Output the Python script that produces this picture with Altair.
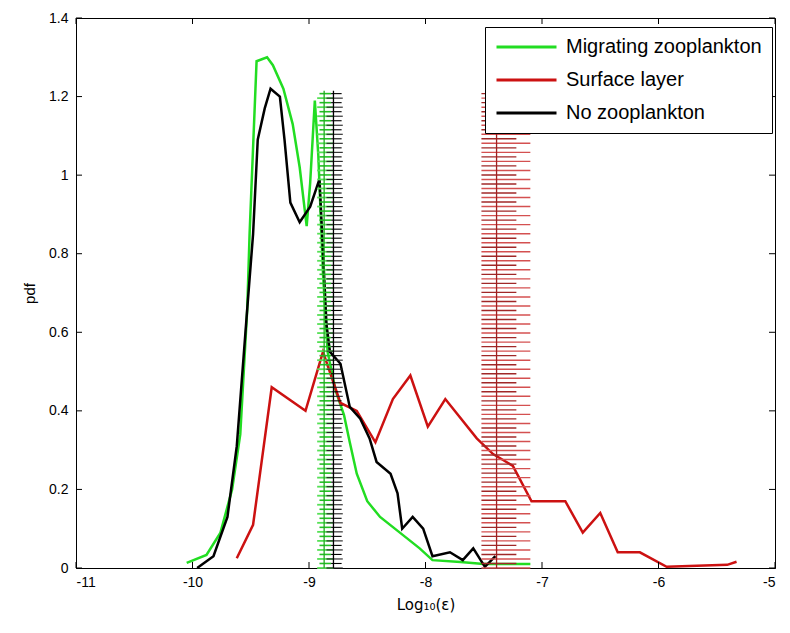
import altair as alt
import pandas as pd

# ---------------- curve data ----------------
series_names = ["Migrating zooplankton", "Surface layer", "No zooplankton"]
series_colors = ["#22dd22", "#cc1111", "#000000"]

green_x = [-10.05, -9.88, -9.76, -9.66, -9.59, -9.53, -9.51, -9.45, -9.36, -9.31,
           -9.22, -9.14, -9.08, -9.02, -8.99, -8.95, -8.92, -8.88, -8.84, -8.77,
           -8.70, -8.65, -8.59, -8.50, -8.39, -8.22, -8.05, -7.94, -7.70, -7.50, -7.10]
green_y = [0.013, 0.033, 0.09, 0.20, 0.34, 0.66, 0.85, 1.29, 1.30, 1.28,
           1.22, 1.13, 1.02, 0.87, 0.98, 1.19, 1.05, 0.75, 0.55, 0.45,
           0.39, 0.32, 0.24, 0.17, 0.13, 0.09, 0.05, 0.02, 0.015, 0.01, 0.01]

red_x = [-9.62, -9.48, -9.32, -9.03, -8.88, -8.73, -8.59, -8.43, -8.28, -8.13,
         -7.98, -7.83, -7.56, -7.42, -7.25, -7.09, -6.80, -6.65, -6.50, -6.35,
         -6.16, -5.93, -5.41, -5.33]
red_y = [0.025, 0.11, 0.46, 0.40, 0.55, 0.42, 0.40, 0.32, 0.43, 0.49,
         0.36, 0.43, 0.33, 0.29, 0.26, 0.17, 0.17, 0.09, 0.14, 0.04,
         0.04, 0.003, 0.008, 0.016]

black_x = [-9.96, -9.82, -9.70, -9.62, -9.53, -9.48, -9.44, -9.38, -9.33, -9.25,
           -9.21, -9.16, -9.08, -8.99, -8.91, -8.85, -8.82, -8.73, -8.65, -8.56,
           -8.48, -8.42, -8.30, -8.24, -8.20, -8.11, -8.02, -7.94, -7.79, -7.68,
           -7.59, -7.49, -7.40]
black_y = [0.0, 0.03, 0.13, 0.31, 0.66, 0.85, 1.09, 1.17, 1.22, 1.20,
           1.09, 0.93, 0.88, 0.92, 0.99, 0.62, 0.55, 0.52, 0.41, 0.38,
           0.33, 0.27, 0.24, 0.19, 0.10, 0.13, 0.10, 0.03, 0.04, 0.02,
           0.05, 0.003, 0.03]

# ---------------- error-bar bands ----------------
band_names = ["green", "black", "red"]
band_center = [-8.87, -8.79, -7.39]
band_lo = [-8.93, -8.85, -7.52]
band_hi = [-8.79, -8.71, -7.10]
band_inner_lo = [-8.91, -8.81, -7.52]
band_inner_hi = [-8.81, -8.72, -7.22]
band_top = 1.215
band_levels = [round(i * 0.0115, 4) for i in range(106)]

x_ticks = [-11, -10, -9, -8, -7, -6, -5]
y_ticks = [0, 0.2, 0.4, 0.6, 0.8, 1, 1.2, 1.4]

W, H = 699, 550
TICK = 6

# ---------------- frames ----------------
rows = []
for name, xs_, ys_ in zip(series_names, [green_x, red_x, black_x], [green_y, red_y, black_y]):
    for i, (a, b) in enumerate(zip(xs_, ys_)):
        rows.append({"series": name, "x": a, "y": b, "i": i})
lines_df = pd.DataFrame(rows)


def band_frame(k, inner):
    r = []
    for j, lv in enumerate(band_levels):
        if inner and j % 2 == 1:
            r.append({"x": band_inner_lo[k], "x2": band_inner_hi[k], "y": lv})
        elif not inner and j % 2 == 0:
            r.append({"x": band_lo[k], "x2": band_hi[k], "y": lv})
    return pd.DataFrame(r)


FONT = "Liberation Sans"
xsc = alt.Scale(domain=[-11, -5], nice=False, zero=False)
ysc = alt.Scale(domain=[0, 1.4], nice=False, zero=False)

lines = alt.Chart(lines_df).mark_line(strokeWidth=2.5).encode(
    x=alt.X("x:Q", scale=xsc, axis=alt.Axis(
        values=x_ticks, labelExpr="toString(datum.value)", tickSize=0, grid=False,
        title="Log₁₀(ε)", labelFontSize=14, titleFontSize=15, labelFont=FONT,
        titleFont="DejaVu Sans", titleFontWeight="normal", labelPadding=7, titlePadding=8,
        domainColor="black", labelColor="black", titleColor="black")),
    y=alt.Y("y:Q", scale=ysc, axis=alt.Axis(
        values=y_ticks, labelExpr="toString(datum.value)", tickSize=0, grid=False,
        title="pdf", labelFontSize=14, titleFontSize=15, labelFont=FONT,
        titleFont=FONT, titleFontWeight="normal", labelPadding=8, titlePadding=11,
        domainColor="black", labelColor="black", titleColor="black")),
    color=alt.Color("series:N", scale=alt.Scale(domain=series_names, range=series_colors),
                    legend=alt.Legend(title=None, orient="none", legendX=409, legendY=9,
                                      symbolType="stroke", symbolSize=3600,
                                      symbolStrokeWidth=3, labelFontSize=20,
                                      labelFont=FONT, labelColor="black",
                                      strokeColor="black", fillColor="white",
                                      padding=10, rowPadding=13, clipHeight=20,
                                      labelLimit=400, labelOffset=8)),
    order=alt.Order("i:Q"),
)


def hrules(df, color, width):
    return alt.Chart(df).mark_rule(color=color, strokeWidth=width).encode(
        x=alt.X("x:Q", scale=xsc), x2="x2:Q", y=alt.Y("y:Q", scale=ysc))


def spine(k, color):
    df = pd.DataFrame({"x": [band_center[k]], "y": [0.0], "y2": [band_top]})
    return alt.Chart(df).mark_rule(color=color, strokeWidth=1.3).encode(
        x=alt.X("x:Q", scale=xsc), y=alt.Y("y:Q", scale=ysc), y2="y2:Q")


green_band = (hrules(band_frame(0, False), "#55e055", 1.8)
              + hrules(band_frame(0, True), "#22c022", 1.6) + spine(0, "#22aa22"))
black_band = (hrules(band_frame(1, False), "#222222", 1.1)
              + hrules(band_frame(1, True), "#000000", 1.1) + spine(1, "#000000"))
red_band = (hrules(band_frame(2, False), "#d45050", 1.4)
            + hrules(band_frame(2, True), "#a02828", 1.4) + spine(2, "#a02020"))

# inward (MATLAB-style) tick marks on all four sides
xt_df = pd.DataFrame({"x": x_ticks})
yt_df = pd.DataFrame({"y": y_ticks})
tick_bottom = alt.Chart(xt_df).mark_rule(color="black", strokeWidth=1).encode(
    x=alt.X("x:Q", scale=xsc), y=alt.value(H), y2=alt.value(H - TICK))
tick_top = alt.Chart(xt_df).mark_rule(color="black", strokeWidth=1).encode(
    x=alt.X("x:Q", scale=xsc), y=alt.value(0), y2=alt.value(TICK))
tick_left = alt.Chart(yt_df).mark_rule(color="black", strokeWidth=1).encode(
    y=alt.Y("y:Q", scale=ysc), x=alt.value(0), x2=alt.value(TICK))
tick_right = alt.Chart(yt_df).mark_rule(color="black", strokeWidth=1).encode(
    y=alt.Y("y:Q", scale=ysc), x=alt.value(W), x2=alt.value(W - TICK))

chart = alt.layer(
    lines, green_band, black_band, red_band,
    tick_bottom, tick_top, tick_left, tick_right,
).properties(
    width=W, height=H, background="white",
    autosize=alt.AutoSizeParams(type="none"),
    padding={"left": 68, "top": 10, "right": 7, "bottom": 50},
).configure_view(stroke="black", strokeWidth=1)

chart.save("out.html", embed_options={"renderer": "svg", "actions": False})
